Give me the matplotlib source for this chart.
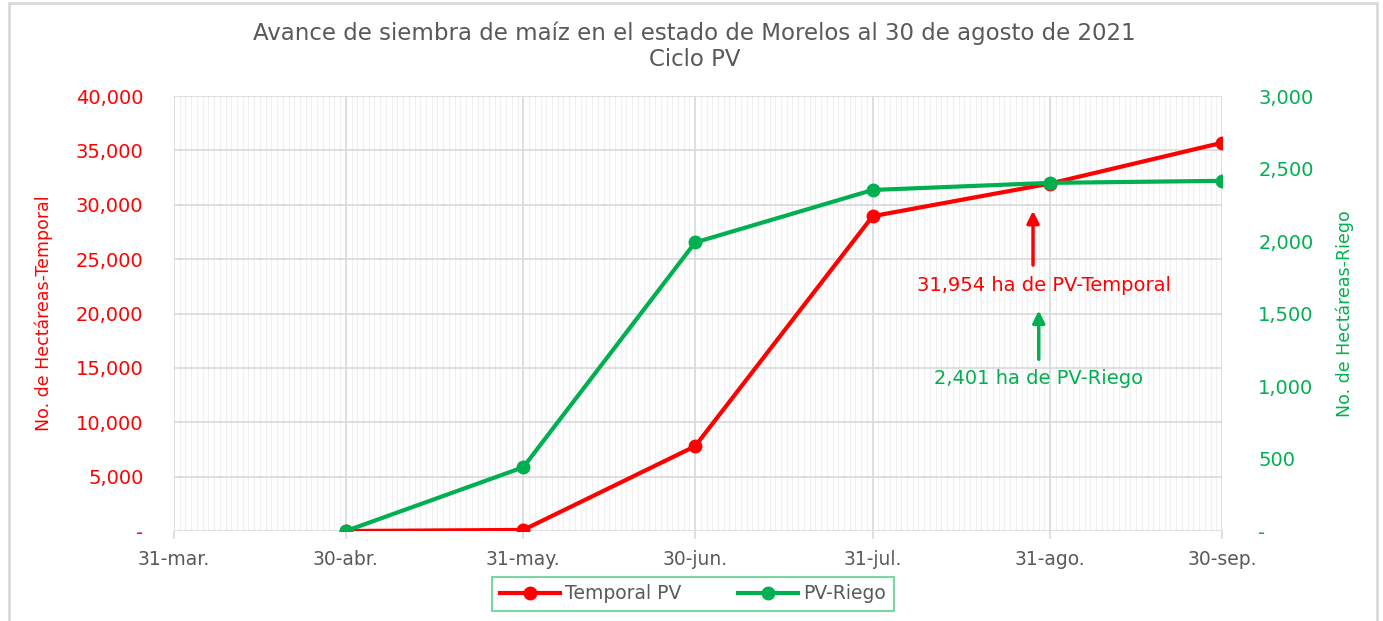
import matplotlib.pyplot as plt
import matplotlib.dates as mdates
import matplotlib.ticker as mticker
from matplotlib.patches import Rectangle
import pandas as pd

# data
fechas = ["2021-04-30", "2021-05-31", "2021-06-30", "2021-07-31", "2021-08-31", "2021-09-30"]
temporal = [0, 100, 7800, 28950, 31954, 35700]
riego = [0, 440, 1990, 2352, 2401, 2415]
tick_fechas = ["2021-03-31", "2021-04-30", "2021-05-31", "2021-06-30", "2021-07-31", "2021-08-31", "2021-09-30"]
tick_labels = ["31-mar.", "30-abr.", "31-may.", "30-jun.", "31-jul.", "31-ago.", "30-sep."]

RED = "#FF0000"
GREEN = "#00B050"
GRAY = "#595959"
GRID = "#D9D9D9"

x = pd.to_datetime(fechas)
xt = pd.to_datetime(tick_fechas)

fig = plt.figure(figsize=(13.83, 6.21), dpi=100)
ax = fig.add_axes([0.1258, 0.1449, 0.7578, 0.7005])
ax2 = ax.twinx()

# outer frame
fig.patches.append(Rectangle((9 / 1383, -0.02), 1368 / 1383, 1.02 - 3 / 621, transform=fig.transFigure,
                             fill=False, edgecolor=GRID, lw=2, zorder=0))

ax.set_xlim(xt[0], xt[-1])
ax.set_ylim(0, 40000)
ax2.set_ylim(0, 3000)

# grid
ax.xaxis.set_major_locator(mticker.FixedLocator(mdates.date2num(xt)))
ax.xaxis.set_minor_locator(mdates.DayLocator())
ax.set_xticklabels(tick_labels)
ax.yaxis.set_major_locator(mticker.MultipleLocator(5000))
ax2.yaxis.set_major_locator(mticker.MultipleLocator(500))
ax.grid(True, which="major", color=GRID, lw=1.2)
ax.grid(True, which="minor", axis="x", color="#F0F0F0", lw=0.9)
ax.set_axisbelow(True)

fmt = mticker.FuncFormatter(lambda v, p: "-" if v == 0 else f"{int(v):,}")
ax.yaxis.set_major_formatter(fmt)
ax2.yaxis.set_major_formatter(fmt)

for a in (ax, ax2):
    for s in a.spines.values():
        s.set_visible(False)

ax.tick_params(axis="x", which="major", length=6, color=GRID, width=1.2, pad=8, labelsize=13.5, labelcolor=GRAY)
ax.tick_params(axis="x", which="minor", length=0)
ax.tick_params(axis="y", length=0, pad=22, labelsize=14, labelcolor=RED)
ax2.tick_params(axis="y", length=0, pad=26, labelsize=14, labelcolor=GREEN)

ax.set_ylabel("No. de Hectáreas-Temporal", color=RED, fontsize=12.5)
ax.yaxis.set_label_coords(-0.1155, 0.5)
ax2.set_ylabel("No. de Hectáreas-Riego", color=GREEN, fontsize=12.5)
ax2.yaxis.set_label_coords(1.108, 0.5)

l1, = ax.plot(x, temporal, color=RED, lw=3, marker="o", ms=9, label="Temporal PV")
l2, = ax2.plot(x, riego, color=GREEN, lw=3, marker="o", ms=9, label="PV-Riego")

# annotations
ax.annotate("", xy=(pd.Timestamp("2021-08-28"), 29700), xytext=(pd.Timestamp("2021-08-28"), 24200),
            arrowprops=dict(arrowstyle="-|>", color=RED, lw=2.5, mutation_scale=18))
ax.text(pd.Timestamp("2021-08-30"), 22600, "31,954 ha de PV-Temporal", color=RED, fontsize=14,
        ha="center", va="center")
ax2.annotate("", xy=(pd.Timestamp("2021-08-29"), 1540), xytext=(pd.Timestamp("2021-08-29"), 1165),
             arrowprops=dict(arrowstyle="-|>", color=GREEN, lw=2.5, mutation_scale=18))
ax2.text(pd.Timestamp("2021-08-29"), 1055, "2,401 ha de PV-Riego", color=GREEN, fontsize=14,
         ha="center", va="center")

fig.text(0.502, 0.926, "Avance de siembra de maíz en el estado de Morelos al 30 de agosto de 2021\nCiclo PV",
         ha="center", va="center", fontsize=16.5, color=GRAY, linespacing=1.15)

leg = fig.legend(handles=[l1, l2], loc="center", bbox_to_anchor=(0.501, 0.044), ncol=2, fontsize=13.5,
                 frameon=True, fancybox=False, edgecolor="#5DCC8A", handlelength=3.2, columnspacing=3.0,
                 borderpad=0.4, handletextpad=0.3, borderaxespad=0)
leg.get_frame().set_linewidth(1.5)
for t in leg.get_texts():
    t.set_color(GRAY)

fig.savefig("out.png", dpi=100)
